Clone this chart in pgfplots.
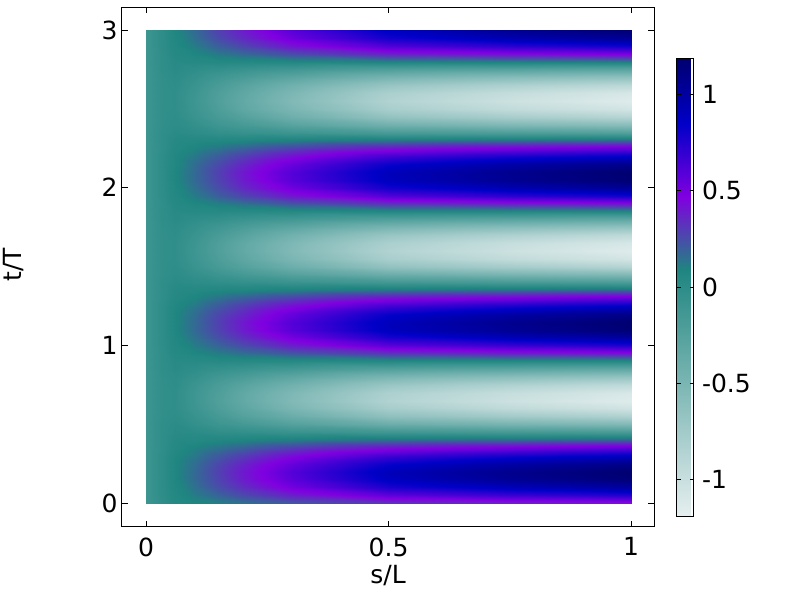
\documentclass[border=0pt]{standalone}
\usepackage{fontspec}
\setmainfont{DejaVu Sans}
\usepackage{pgfplots}
\pgfplotsset{compat=1.18}

\pgfplotstableread{
s t v
0 0.00 -0.10
0.03 0.00 -0.02
0.06 0.00 0.05
0.1 0.00 0.08
0.15 0.00 0.11
0.2 0.00 0.15
0.3 0.00 0.22
0.5 0.00 0.32
0.75 0.00 0.37
1 0.00 0.41
0 0.05 -0.10
0.03 0.05 -0.01
0.06 0.05 0.06
0.1 0.05 0.12
0.15 0.05 0.19
0.2 0.05 0.26
0.3 0.05 0.38
0.5 0.05 0.57
0.75 0.05 0.68
1 0.05 0.75
0 0.10 -0.10
0.03 0.10 -0.01
0.06 0.10 0.07
0.1 0.10 0.15
0.15 0.10 0.25
0.2 0.10 0.34
0.3 0.10 0.51
0.5 0.10 0.77
0.75 0.10 0.91
1 0.10 1.01
0 0.15 -0.10
0.03 0.15 -0.01
0.06 0.15 0.08
0.1 0.15 0.17
0.15 0.15 0.28
0.2 0.15 0.39
0.3 0.15 0.58
0.5 0.15 0.88
0.75 0.15 1.05
1 0.15 1.16
0 0.20 -0.10
0.03 0.20 -0.01
0.06 0.20 0.08
0.1 0.20 0.17
0.15 0.20 0.29
0.2 0.20 0.40
0.3 0.20 0.60
0.5 0.20 0.91
0.75 0.20 1.08
1 0.20 1.20
0 0.25 -0.10
0.03 0.25 -0.01
0.06 0.25 0.08
0.1 0.25 0.16
0.15 0.25 0.27
0.2 0.25 0.37
0.3 0.25 0.55
0.5 0.25 0.83
0.75 0.25 0.99
1 0.25 1.10
0 0.30 -0.10
0.03 0.30 -0.01
0.06 0.30 0.07
0.1 0.30 0.13
0.15 0.30 0.22
0.2 0.30 0.30
0.3 0.30 0.45
0.5 0.30 0.67
0.75 0.30 0.80
1 0.30 0.89
0 0.35 -0.10
0.03 0.35 -0.02
0.06 0.35 0.05
0.1 0.35 0.10
0.15 0.35 0.15
0.2 0.35 0.20
0.3 0.35 0.30
0.5 0.35 0.44
0.75 0.35 0.52
1 0.35 0.58
0 0.40 -0.10
0.03 0.40 -0.02
0.06 0.40 0.04
0.1 0.40 0.05
0.15 0.40 0.07
0.2 0.40 0.09
0.3 0.40 0.12
0.5 0.40 0.17
0.75 0.40 0.19
1 0.40 0.21
0 0.45 -0.10
0.03 0.45 -0.02
0.06 0.45 0.02
0.1 0.45 0.01
0.15 0.45 -0.02
0.2 0.45 -0.03
0.3 0.45 -0.07
0.5 0.45 -0.12
0.75 0.45 -0.15
1 0.45 -0.17
0 0.50 -0.10
0.03 0.50 -0.02
0.06 0.50 0.01
0.1 0.50 -0.04
0.15 0.50 -0.10
0.2 0.50 -0.15
0.3 0.50 -0.25
0.5 0.50 -0.40
0.75 0.50 -0.48
1 0.50 -0.54
0 0.55 -0.10
0.03 0.55 -0.03
0.06 0.55 -0.01
0.1 0.55 -0.07
0.15 0.55 -0.16
0.2 0.55 -0.25
0.3 0.55 -0.39
0.5 0.55 -0.63
0.75 0.55 -0.75
1 0.55 -0.84
0 0.60 -0.10
0.03 0.60 -0.03
0.06 0.60 -0.02
0.1 0.60 -0.10
0.15 0.60 -0.21
0.2 0.60 -0.31
0.3 0.60 -0.50
0.5 0.60 -0.78
0.75 0.60 -0.94
1 0.60 -1.05
0 0.65 -0.10
0.03 0.65 -0.03
0.06 0.65 -0.02
0.1 0.65 -0.11
0.15 0.65 -0.23
0.2 0.65 -0.34
0.3 0.65 -0.54
0.5 0.65 -0.85
0.75 0.65 -1.02
1 0.65 -1.14
0 0.70 -0.10
0.03 0.70 -0.03
0.06 0.70 -0.02
0.1 0.70 -0.11
0.15 0.70 -0.22
0.2 0.70 -0.33
0.3 0.70 -0.52
0.5 0.70 -0.82
0.75 0.70 -0.98
1 0.70 -1.10
0 0.75 -0.10
0.03 0.75 -0.03
0.06 0.75 -0.01
0.1 0.75 -0.09
0.15 0.75 -0.19
0.2 0.75 -0.28
0.3 0.75 -0.44
0.5 0.75 -0.70
0.75 0.75 -0.84
1 0.75 -0.94
0 0.80 -0.10
0.03 0.80 -0.03
0.06 0.80 0.00
0.1 0.80 -0.05
0.15 0.80 -0.13
0.2 0.80 -0.19
0.3 0.80 -0.31
0.5 0.80 -0.50
0.75 0.80 -0.60
1 0.80 -0.67
0 0.85 -0.10
0.03 0.85 -0.02
0.06 0.85 0.02
0.1 0.85 -0.01
0.15 0.85 -0.05
0.2 0.85 -0.08
0.3 0.85 -0.14
0.5 0.85 -0.24
0.75 0.85 -0.29
1 0.85 -0.33
0 0.90 -0.10
0.03 0.90 -0.02
0.06 0.90 0.03
0.1 0.90 0.03
0.15 0.90 0.04
0.2 0.90 0.04
0.3 0.90 0.04
0.5 0.90 0.05
0.75 0.90 0.05
1 0.90 0.05
0 0.95 -0.10
0.03 0.95 -0.02
0.06 0.95 0.05
0.1 0.95 0.08
0.15 0.95 0.12
0.2 0.95 0.16
0.3 0.95 0.23
0.5 0.95 0.33
0.75 0.95 0.39
1 0.95 0.43
0 1.00 -0.10
0.03 1.00 -0.01
0.06 1.00 0.06
0.1 1.00 0.12
0.15 1.00 0.19
0.2 1.00 0.26
0.3 1.00 0.39
0.5 1.00 0.59
0.75 1.00 0.69
1 1.00 0.77
0 1.05 -0.10
0.03 1.05 -0.01
0.06 1.05 0.07
0.1 1.05 0.15
0.15 1.05 0.25
0.2 1.05 0.34
0.3 1.05 0.51
0.5 1.05 0.78
0.75 1.05 0.92
1 1.05 1.02
0 1.10 -0.10
0.03 1.10 -0.01
0.06 1.10 0.08
0.1 1.10 0.17
0.15 1.10 0.28
0.2 1.10 0.39
0.3 1.10 0.59
0.5 1.10 0.89
0.75 1.10 1.05
1 1.10 1.17
0 1.15 -0.10
0.03 1.15 -0.01
0.06 1.15 0.08
0.1 1.15 0.17
0.15 1.15 0.29
0.2 1.15 0.40
0.3 1.15 0.60
0.5 1.15 0.90
0.75 1.15 1.07
1 1.15 1.19
0 1.20 -0.10
0.03 1.20 -0.01
0.06 1.20 0.08
0.1 1.20 0.16
0.15 1.20 0.27
0.2 1.20 0.36
0.3 1.20 0.55
0.5 1.20 0.83
0.75 1.20 0.98
1 1.20 1.09
0 1.25 -0.10
0.03 1.25 -0.01
0.06 1.25 0.07
0.1 1.25 0.13
0.15 1.25 0.22
0.2 1.25 0.30
0.3 1.25 0.44
0.5 1.25 0.66
0.75 1.25 0.78
1 1.25 0.87
0 1.30 -0.10
0.03 1.30 -0.02
0.06 1.30 0.05
0.1 1.30 0.09
0.15 1.30 0.15
0.2 1.30 0.20
0.3 1.30 0.29
0.5 1.30 0.43
0.75 1.30 0.50
1 1.30 0.56
0 1.35 -0.10
0.03 1.35 -0.02
0.06 1.35 0.04
0.1 1.35 0.05
0.15 1.35 0.07
0.2 1.35 0.08
0.3 1.35 0.11
0.5 1.35 0.15
0.75 1.35 0.17
1 1.35 0.19
0 1.40 -0.10
0.03 1.40 -0.02
0.06 1.40 0.02
0.1 1.40 0.00
0.15 1.40 -0.02
0.2 1.40 -0.04
0.3 1.40 -0.08
0.5 1.40 -0.14
0.75 1.40 -0.17
1 1.40 -0.20
0 1.45 -0.10
0.03 1.45 -0.03
0.06 1.45 0.00
0.1 1.45 -0.04
0.15 1.45 -0.10
0.2 1.45 -0.16
0.3 1.45 -0.26
0.5 1.45 -0.41
0.75 1.45 -0.50
1 1.45 -0.56
0 1.50 -0.10
0.03 1.50 -0.03
0.06 1.50 -0.01
0.1 1.50 -0.08
0.15 1.50 -0.17
0.2 1.50 -0.25
0.3 1.50 -0.40
0.5 1.50 -0.64
0.75 1.50 -0.76
1 1.50 -0.86
0 1.55 -0.10
0.03 1.55 -0.03
0.06 1.55 -0.02
0.1 1.55 -0.10
0.15 1.55 -0.21
0.2 1.55 -0.31
0.3 1.55 -0.50
0.5 1.55 -0.79
0.75 1.55 -0.95
1 1.55 -1.06
0 1.60 -0.10
0.03 1.60 -0.03
0.06 1.60 -0.02
0.1 1.60 -0.11
0.15 1.60 -0.23
0.2 1.60 -0.34
0.3 1.60 -0.54
0.5 1.60 -0.85
0.75 1.60 -1.02
1 1.60 -1.14
0 1.65 -0.10
0.03 1.65 -0.03
0.06 1.65 -0.02
0.1 1.65 -0.10
0.15 1.65 -0.22
0.2 1.65 -0.33
0.3 1.65 -0.52
0.5 1.65 -0.81
0.75 1.65 -0.98
1 1.65 -1.09
0 1.70 -0.10
0.03 1.70 -0.03
0.06 1.70 -0.01
0.1 1.70 -0.08
0.15 1.70 -0.18
0.2 1.70 -0.27
0.3 1.70 -0.44
0.5 1.70 -0.69
0.75 1.70 -0.83
1 1.70 -0.93
0 1.75 -0.10
0.03 1.75 -0.03
0.06 1.75 0.00
0.1 1.75 -0.05
0.15 1.75 -0.12
0.2 1.75 -0.19
0.3 1.75 -0.30
0.5 1.75 -0.48
0.75 1.75 -0.58
1 1.75 -0.65
0 1.80 -0.10
0.03 1.80 -0.02
0.06 1.80 0.02
0.1 1.80 -0.01
0.15 1.80 -0.04
0.2 1.80 -0.08
0.3 1.80 -0.13
0.5 1.80 -0.22
0.75 1.80 -0.27
1 1.80 -0.31
0 1.85 -0.10
0.03 1.85 -0.02
0.06 1.85 0.03
0.1 1.85 0.04
0.15 1.85 0.04
0.2 1.85 0.04
0.3 1.85 0.05
0.5 1.85 0.07
0.75 1.85 0.07
1 1.85 0.08
0 1.90 -0.10
0.03 1.90 -0.02
0.06 1.90 0.05
0.1 1.90 0.08
0.15 1.90 0.12
0.2 1.90 0.16
0.3 1.90 0.24
0.5 1.90 0.35
0.75 1.90 0.41
1 1.90 0.45
0 1.95 -0.10
0.03 1.95 -0.01
0.06 1.95 0.06
0.1 1.95 0.12
0.15 1.95 0.20
0.2 1.95 0.27
0.3 1.95 0.40
0.5 1.95 0.60
0.75 1.95 0.71
1 1.95 0.79
0 2.00 -0.10
0.03 2.00 -0.01
0.06 2.00 0.07
0.1 2.00 0.15
0.15 2.00 0.25
0.2 2.00 0.35
0.3 2.00 0.52
0.5 2.00 0.79
0.75 2.00 0.93
1 2.00 1.04
0 2.05 -0.10
0.03 2.05 -0.01
0.06 2.05 0.08
0.1 2.05 0.17
0.15 2.05 0.28
0.2 2.05 0.39
0.3 2.05 0.59
0.5 2.05 0.89
0.75 2.05 1.06
1 2.05 1.18
0 2.10 -0.10
0.03 2.10 -0.01
0.06 2.10 0.08
0.1 2.10 0.17
0.15 2.10 0.29
0.2 2.10 0.40
0.3 2.10 0.60
0.5 2.10 0.90
0.75 2.10 1.07
1 2.10 1.19
0 2.15 -0.10
0.03 2.15 -0.01
0.06 2.15 0.07
0.1 2.15 0.16
0.15 2.15 0.26
0.2 2.15 0.36
0.3 2.15 0.54
0.5 2.15 0.82
0.75 2.15 0.97
1 2.15 1.08
0 2.20 -0.10
0.03 2.20 -0.01
0.06 2.20 0.07
0.1 2.20 0.13
0.15 2.20 0.21
0.2 2.20 0.29
0.3 2.20 0.43
0.5 2.20 0.65
0.75 2.20 0.77
1 2.20 0.85
0 2.25 -0.10
0.03 2.25 -0.02
0.06 2.25 0.05
0.1 2.25 0.09
0.15 2.25 0.14
0.2 2.25 0.19
0.3 2.25 0.28
0.5 2.25 0.41
0.75 2.25 0.49
1 2.25 0.54
0 2.30 -0.10
0.03 2.30 -0.02
0.06 2.30 0.04
0.1 2.30 0.05
0.15 2.30 0.06
0.2 2.30 0.07
0.3 2.30 0.10
0.5 2.30 0.13
0.75 2.30 0.15
1 2.30 0.17
0 2.35 -0.10
0.03 2.35 -0.02
0.06 2.35 0.02
0.1 2.35 0.00
0.15 2.35 -0.03
0.2 2.35 -0.05
0.3 2.35 -0.09
0.5 2.35 -0.16
0.75 2.35 -0.19
1 2.35 -0.22
0 2.40 -0.10
0.03 2.40 -0.03
0.06 2.40 0.00
0.1 2.40 -0.04
0.15 2.40 -0.11
0.2 2.40 -0.16
0.3 2.40 -0.27
0.5 2.40 -0.43
0.75 2.40 -0.52
1 2.40 -0.58
0 2.45 -0.10
0.03 2.45 -0.03
0.06 2.45 -0.01
0.1 2.45 -0.08
0.15 2.45 -0.17
0.2 2.45 -0.25
0.3 2.45 -0.41
0.5 2.45 -0.65
0.75 2.45 -0.78
1 2.45 -0.87
0 2.50 -0.10
0.03 2.50 -0.03
0.06 2.50 -0.02
0.1 2.50 -0.10
0.15 2.50 -0.21
0.2 2.50 -0.32
0.3 2.50 -0.50
0.5 2.50 -0.79
0.75 2.50 -0.95
1 2.50 -1.06
0 2.55 -0.10
0.03 2.55 -0.03
0.06 2.55 -0.02
0.1 2.55 -0.11
0.15 2.55 -0.23
0.2 2.55 -0.34
0.3 2.55 -0.54
0.5 2.55 -0.85
0.75 2.55 -1.02
1 2.55 -1.14
0 2.60 -0.10
0.03 2.60 -0.03
0.06 2.60 -0.02
0.1 2.60 -0.10
0.15 2.60 -0.22
0.2 2.60 -0.32
0.3 2.60 -0.51
0.5 2.60 -0.81
0.75 2.60 -0.97
1 2.60 -1.09
0 2.65 -0.10
0.03 2.65 -0.03
0.06 2.65 -0.01
0.1 2.65 -0.08
0.15 2.65 -0.18
0.2 2.65 -0.27
0.3 2.65 -0.43
0.5 2.65 -0.68
0.75 2.65 -0.82
1 2.65 -0.91
0 2.70 -0.10
0.03 2.70 -0.03
0.06 2.70 0.00
0.1 2.70 -0.05
0.15 2.70 -0.12
0.2 2.70 -0.18
0.3 2.70 -0.29
0.5 2.70 -0.47
0.75 2.70 -0.57
1 2.70 -0.63
0 2.75 -0.10
0.03 2.75 -0.02
0.06 2.75 0.02
0.1 2.75 -0.01
0.15 2.75 -0.04
0.2 2.75 -0.07
0.3 2.75 -0.12
0.5 2.75 -0.21
0.75 2.75 -0.25
1 2.75 -0.28
0 2.80 -0.10
0.03 2.80 -0.02
0.06 2.80 0.03
0.1 2.80 0.04
0.15 2.80 0.05
0.2 2.80 0.05
0.3 2.80 0.06
0.5 2.80 0.08
0.75 2.80 0.09
1 2.80 0.10
0 2.85 -0.10
0.03 2.85 -0.02
0.06 2.85 0.05
0.1 2.85 0.08
0.15 2.85 0.13
0.2 2.85 0.17
0.3 2.85 0.25
0.5 2.85 0.37
0.75 2.85 0.43
1 2.85 0.48
0 2.90 -0.10
0.03 2.90 -0.01
0.06 2.90 0.06
0.1 2.90 0.12
0.15 2.90 0.20
0.2 2.90 0.27
0.3 2.90 0.41
0.5 2.90 0.61
0.75 2.90 0.72
1 2.90 0.80
0 2.95 -0.10
0.03 2.95 -0.01
0.06 2.95 0.07
0.1 2.95 0.15
0.15 2.95 0.26
0.2 2.95 0.35
0.3 2.95 0.53
0.5 2.95 0.79
0.75 2.95 0.94
1 2.95 1.05
0 3.00 -0.10
0.03 3.00 -0.01
0.06 3.00 0.08
0.1 3.00 0.17
0.15 3.00 0.29
0.2 3.00 0.39
0.3 3.00 0.59
0.5 3.00 0.88
0.75 3.00 1.06
1 3.00 1.18
}\fieldtable

\begin{document}
\fontsize{25}{30}\selectfont
\begin{tikzpicture}
\path[use as bounding box] (-122pt,-62pt) rectangle (663pt,527pt);
\begin{axis}[
    at={(0pt,0pt)},
    anchor=south west,
    scale only axis,
    width=532pt,
    height=520pt,
    view={0}{90},
    xmin=-0.0495, xmax=1.047,
    ymin=-0.152, ymax=3.146,
    xtick={0,0.5,1},
    xticklabels={0,0.5,1},
    ytick={0,1,2,3},
    yticklabels={0,1,2,3},
    ztick=\empty,
    tick align=inside,
    major tick length=6pt,
    axis line style={line width=1pt},
    every tick/.style={black,line width=0.8pt},
    tick label style={font=\fontsize{25}{30}\selectfont},
    xticklabel style={yshift=-2pt},
    yticklabel style={xshift=4pt},
    label style={font=\fontsize{25}{30}\selectfont},
    xlabel={s/L},
    ylabel={t/T},
    every axis x label/.style={at={(axis description cs:0.5,0)},anchor=center,yshift=-49pt},
    every axis y label/.style={at={(axis description cs:0,0.5)},anchor=center,xshift=-108pt,yshift=2pt,rotate=90},
    colormap={field}{
        rgb255(0pt)=(230,239,239)
        rgb255(128pt)=(31,133,128)
        rgb255(166pt)=(128,0,224)
        rgb255(204pt)=(0,0,200)
        rgb255(238pt)=(0,0,112)
    },
    point meta min=-1.19,
    point meta max=1.19,
    colorbar,
    colorbar style={
        at={(parent axis.north east)},
        anchor=north west,
        xshift=14pt,
        yshift=-51pt,
        scale only axis,
        width=17pt,
        height=458pt,
        ytick={-1,-0.5,0,0.5,1},
        yticklabels={-1,-0.5,0,0.5,1},
        tick align=inside,
        major tick length=4pt,
        axis line style={line width=1pt},
        every tick/.style={black,line width=0.8pt},
        yticklabel style={font=\fontsize{25}{30}\selectfont},
    },
]
\addplot3[surf, shader=interp, mesh/cols=10, mesh/ordering=x varies]
    table[x=s, y=t, z=v, meta=v] {\fieldtable};
\end{axis}
\end{tikzpicture}
\end{document}
